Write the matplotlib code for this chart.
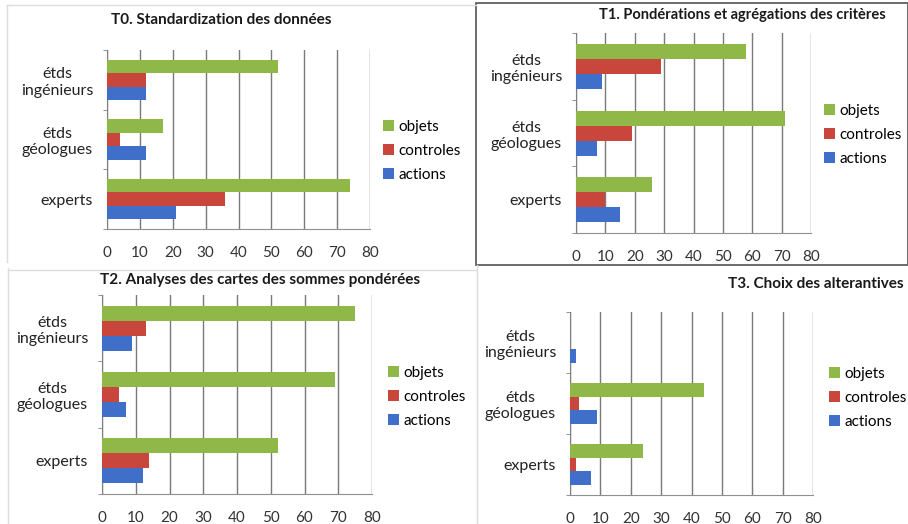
import matplotlib
matplotlib.use("Agg")
import matplotlib.pyplot as plt
from matplotlib.patches import Rectangle
from matplotlib.lines import Line2D
import numpy as np

plt.rcParams['font.family'] = ['Lato', 'DejaVu Sans']

# Données
CATEGORIES = ["experts", "étds\ngéologues", "étds\ningénieurs"]   # de bas en haut
SERIES = ["objets", "controles", "actions"]
COULEURS = ["#8fb848", "#c8463c", "#3f6fc8"]
XTICKS = [0, 10, 20, 30, 40, 50, 60, 70, 80]

TITRES = [
    "T0. Standardization des données",
    "T1. Pondérations et agrégations des critères",
    "T2. Analyses des cartes des sommes pondérées",
    "T3. Choix des alterantives",
]

# valeurs par panneau : [experts, géologues, ingénieurs]
T0_objets = [74, 17, 52]
T0_controles = [36, 4, 12]
T0_actions = [21, 12, 12]

T1_objets = [26, 71, 58]
T1_controles = [10, 19, 29]
T1_actions = [15, 7, 9]

T2_objets = [52, 69, 75]
T2_controles = [14, 5, 13]
T2_actions = [12, 7, 9]

T3_objets = [24, 44, 0]
T3_controles = [2, 3, 0]
T3_actions = [7, 9, 2]

DONNEES = [
    [T0_objets, T0_controles, T0_actions],
    [T1_objets, T1_controles, T1_actions],
    [T2_objets, T2_controles, T2_actions],
    [T3_objets, T3_controles, T3_actions],
]

W, H = 908, 524
fig = plt.figure(figsize=(W / 100, H / 100), dpi=100)


def px_axes(x0, x1, y0, y1):
    """position des axes en pixels -> fraction de la figure"""
    return [x0 / W, 1 - y1 / H, (x1 - x0) / W, (y1 - y0) / H]


# position des zones de tracé, titres et légendes (pixels)
PANNEAUX = [
    dict(ax=(107, 370, 50, 229), titre=(221, 20, 'center', 11), leg=(383, 151)),
    dict(ax=(576, 811, 33, 233), titre=(742, 15, 'center', 10.5), leg=(824, 135)),
    dict(ax=(102, 372, 295, 494), titre=(260, 280, 'center', 11), leg=(388, 397)),
    dict(ax=(570, 813, 312, 495), titre=(904, 284, 'right', 11), leg=(829, 398)),
]

# cadres des panneaux
fig.add_artist(Rectangle((476 / W, 1 - 265 / H), (W - 476) / W, 262 / H,
                         transform=fig.transFigure, fill=False,
                         edgecolor="#606060", linewidth=1.3))
for (x0, y0, x1, y1) in [(7, 5, 7, 262), (7, 5, 476, 5), (8, 268, 8, 524),
                         (8, 270, 476, 270), (477, 265, 477, 524)]:
    fig.add_artist(Line2D([x0 / W, x1 / W], [1 - y0 / H, 1 - y1 / H],
                          transform=fig.transFigure, color="#dcdcdc", linewidth=1))

y = np.arange(len(CATEGORIES))
h = 0.225
decalages = [h, 0, -h]

for i, panneau in enumerate(PANNEAUX):
    ax = fig.add_axes(px_axes(*panneau["ax"]))
    for serie, vals, couleur, d in zip(SERIES, DONNEES[i], COULEURS, decalages):
        ax.barh(y + d, vals, height=h, color=couleur, label=serie, zorder=3)

    ax.set_xlim(0, 80)
    ax.set_ylim(-0.5, 2.5)
    ax.set_xticks(XTICKS)
    ax.set_xticklabels([str(t) for t in XTICKS], fontsize=11, color="#333333")
    ax.set_yticks(y)
    ax.set_yticklabels(CATEGORIES, fontsize=11.5, color="#222222",
                       linespacing=1.2, multialignment='center')
    ax.tick_params(axis='y', length=0, pad=10)
    ax.tick_params(axis='x', length=0, pad=12)
    ax.set_yticks([-0.5, 0.5, 1.5, 2.5], minor=True)
    ax.tick_params(axis='y', which='minor', length=3, color="#808080")

    ax.grid(axis='x', color="#7a7a7a", linewidth=1, zorder=0)
    for s in ["top", "right"]:
        ax.spines[s].set_visible(False)
    ax.spines["left"].set_color("#808080")
    ax.spines["bottom"].set_color("#909090")

    tx, ty, ha, fs = panneau["titre"]
    fig.text(tx / W, 1 - ty / H, TITRES[i], ha=ha, va='center',
             fontsize=fs, fontweight='bold', color="#1a1a1a")

    lx, ly = panneau["leg"]
    fig.legend(*ax.get_legend_handles_labels(), loc='center left',
               bbox_to_anchor=(lx / W, 1 - ly / H), frameon=False,
               fontsize=11, handlelength=0.7, handleheight=0.7,
               handletextpad=0.3, labelspacing=0.65, borderaxespad=0,
               borderpad=0)

fig.savefig("out.png", dpi=100)
